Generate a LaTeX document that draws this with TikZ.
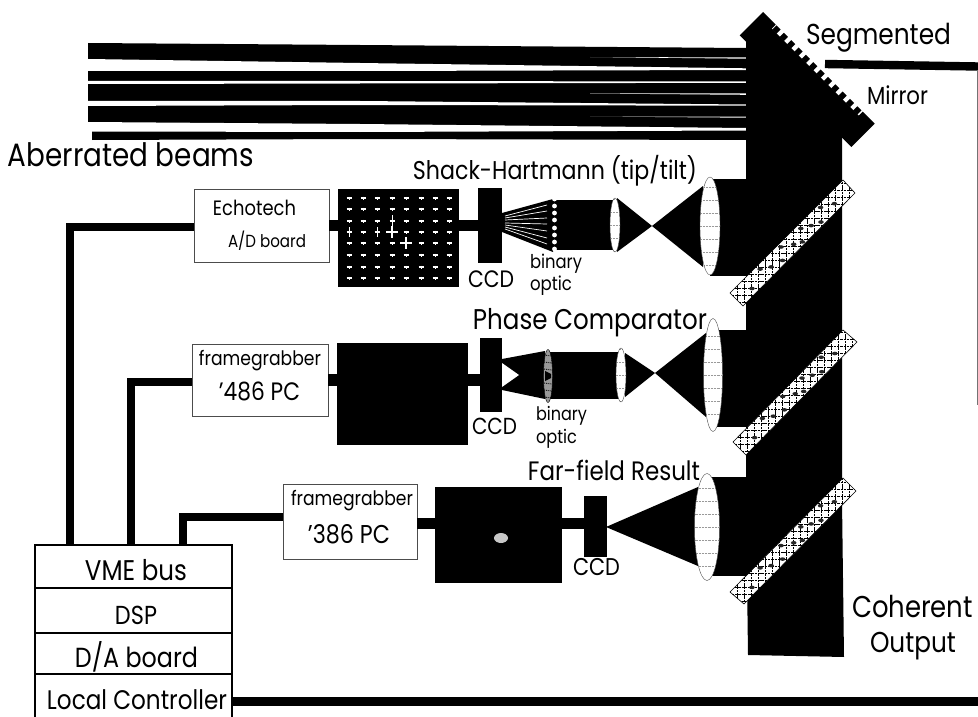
\documentclass[tikz,border=0pt]{standalone}
\usepackage{graphicx}
\usepackage{fontspec}
\setmainfont{Poppins}
\usetikzlibrary{shapes.geometric,calc}
\tikzset{
  wire/.style={line width=8.4pt,line cap=butt,line join=miter,black},
  bar/.style={line width=11.5pt,black},
  box/.style={draw=black!70,line width=.5pt,fill=white,inner sep=0pt,rectangle},
  solid box/.style={fill=black,draw=none,inner sep=0pt,rectangle},
  ctrl/.style={draw=black,line width=2.2pt,fill=white,inner sep=0pt,rectangle,minimum width=197pt},
  lab/.style={anchor=base,inner sep=0pt,text=black},
  lens/.style={ellipse,draw=black!70,line width=.4pt,fill=white,inner sep=0pt,
    path picture={\foreach \k in {-3,...,3}
      \draw[black!40,densely dotted,line width=.45pt]
      ([yshift=\k*13pt]path picture bounding box.west) -- ([yshift=\k*13pt]path picture bounding box.east);}},
  blob/.style={fill=black!85,draw=none}
}
\newcommand{\lab}[5]{\node[lab] (#1) at (#2,#3) {\scalebox{1}[1.16]{\resizebox{#4pt}{!}{#5}}};}
% top, right, bottom, left corners
\newcommand{\splitter}[4]{%
  \begin{scope}
    \fill[white] #1 -- #2 -- #3 -- #4 -- cycle;
    \clip #1 -- #2 -- #3 -- #4 -- cycle;
    \foreach \g in {0,7,...,147}{
      \draw[black,line width=.7pt,dash pattern=on 2.5pt off .8pt] ($#4+(-5,{9-\g})$) -- ++(140,0);
      \draw[black,line width=.7pt,dash pattern=on 2.5pt off .8pt] ($#4+({\g},20)$) -- ++(0,-160);
    }
    \foreach \t/\w in {.12/.7,.24/.25,.3/.6,.38/.8,.43/.2,.5/.6,.55/.85,.6/.25,.66/.55,.72/.8,.78/.2,.86/.6}{
      \fill[blob] ($#4!\t!#1+(12*\w,13*\w)$) ellipse [x radius=2.8,y radius=1.8];
    }
  \end{scope}
  \draw[black,line width=.6pt] #1 -- #2 -- #3 -- #4 -- cycle;
}
\begin{document}
\begin{tikzpicture}[x=1pt,y=-1pt]
\useasboundingbox (0,0) rectangle (978,717);
\fill[white] (0,0) rectangle (978,717);

% incoming beams
\fill[black] (88,43) -- (360,45) -- (746,48) -- (746,140) -- (360,139) -- (92,140) -- (92,131) -- (88,122) -- (88,106) -- (88,84) -- (88,71) -- cycle;
\fill[white] (88,59) -- (360,63) -- (746,68.3) -- (746,70) -- (360,71) -- (88,71) -- cycle;
\fill[white] (88,81) -- (360,81) -- (746,81.5) -- (746,82.8) -- (360,83.5) -- (88,84) -- cycle;
\fill[white] (88,101) -- (360,101) -- (746,104.5) -- (746,105.7) -- (360,105) -- (88,106) -- cycle;
\fill[white] (88,122) -- (360,124) -- (746,128) -- (746,130.5) -- (360,132) -- (92,131.5) -- (80,131.5) -- cycle;
\fill[white] (590,57) -- (746,57.5) -- (746,58.7) -- cycle;
\fill[white] (590,93.5) -- (746,93.5) -- (746,94.8) -- cycle;
\fill[white] (590,116.5) -- (746,116.5) -- (746,117.7) -- cycle;

% main vertical beam
\fill[black] (746,41) -- (842,137) -- (842,500) -- (844,657) -- (748,655) -- (746,500) -- cycle;

% segmented mirror
\begin{scope}[shift={(763,12)},x={(.7071pt,-.7071pt)},y={(.7071pt,.7071pt)}]
  \fill[black] (0,0) -- (18,0) -- (18,-5.5) -- (141,-5.5) -- (141,0) -- (158,0) -- (158,-33) -- (0,-33) -- cycle;
  \foreach \s in {19,29.4,...,135}{
    \fill[black] (\s,-6) -- (\s+5.8,-6) -- (\s+5.8,0) -- (\s,0) -- cycle;
  }
\end{scope}
\draw[wire] (825,64) -- (978,66.5);
\draw[black!55,line width=.9pt] (977.5,70) -- (977.5,405);

% branches to the main lenses
\fill[black] (710,179) rectangle (747,276);
\fill[black] (713,330) rectangle (747,427);
\fill[black] (707,477) rectangle (747,576);

% row 1 optics
\fill[black] (652,226) -- (703,186) -- (703,267) -- cycle;
\fill[black] (652,226) -- (617,198) -- (617,252) -- cycle;
\fill[black] (553,200) rectangle (615,250);
\fill[black] (502,213) -- (553,199) -- (553,252) -- (502,232) -- cycle;
\foreach \y/\z in {205/216,211/218,218/220,224/223,231/225,238/227,244/229}{
  \draw[white,line width=.7pt] (547,\y) -- (505,\z);
}
\node[lens,minimum width=20pt,minimum height=98pt] (lensA) at (710,226) {};
\node[lens,minimum width=10pt,minimum height=54pt] (smallA) at (615,225) {};
\foreach \y in {199,206,213,220,228,235,242,249}{
  \fill[white] (554.5,\y) circle [radius=2.4];
}
\node[solid box,minimum width=121pt,minimum height=98pt] (spots) at (398.5,238) {};
\foreach \x in {349,363,377,392,406,421,435,449}{
  \foreach \y in {198,209,221,232,243,255,267,278}{
    \draw[white,line width=1.3pt] (\x-2.5,\y) -- (\x+2.5,\y);
    \draw[white,line width=.9pt] (\x,\y-1.5) -- (\x,\y+1.5);
  }
}
\draw[white,line width=1.2pt] (392,226) -- (392,238) (386,232) -- (398,232);
\draw[white,line width=1.2pt] (406,237) -- (406,249) (400,243) -- (412,243);
\draw[white,line width=1pt] (392,215) -- (392,227) (349,227) -- (349,237) (377,227) -- (377,237);
\node[solid box,minimum width=24pt,minimum height=75pt] (ccdA) at (490,225.5) {};

% row 2 optics
\fill[black] (655,373) -- (706,333) -- (706,417) -- cycle;
\fill[black] (655,373) -- (625,353) -- (625,397) -- cycle;
\fill[black] (548,352) rectangle (619,399);
\fill[black] (502,359) -- (545,351) -- (545,399) -- (502,390) -- cycle;
\fill[white] (502,363) -- (519,375) -- (502,387) -- cycle;
\node[lens,minimum width=19pt,minimum height=113pt] (lensB) at (713,375) {};
\node[lens,minimum width=10pt,minimum height=54pt] (smallB) at (621,375) {};
\node[ellipse,fill=black!40,draw=black,line width=.4pt,inner sep=0pt,minimum width=9pt,minimum height=53pt] (optB) at (548,376) {};
\foreach \y in {355,362,369,383,390,397}{ \draw[black,line width=.9pt,densely dotted] (544,\y) -- (552,\y+1); }
\fill[black] (545,371) -- (551,374) -- (551,378) -- (545,381) -- cycle;
\node[solid box,minimum width=131pt,minimum height=102pt] (darkB) at (402.5,394) {};
\node[solid box,minimum width=22pt,minimum height=74pt] (ccdB) at (491,375) {};

% row 3 optics
\fill[black] (606,527) -- (698,487) -- (698,566) -- cycle;
\node[lens,minimum width=25pt,minimum height=107pt] (lensC) at (707,527) {};
\node[solid box,minimum width=127pt,minimum height=96pt] (farC) at (498.5,535) {};
\node[ellipse,fill=black!22,draw=none,inner sep=0pt,minimum width=14pt,minimum height=10pt] (spotC) at (501,538) {};
\node[solid box,minimum width=23pt,minimum height=61pt] (ccdC) at (595.5,526.5) {};

% beam splitters
\splitter{(843,180)}{(855,193)}{(743,306)}{(730,293)}
\splitter{(843,330)}{(857,342)}{(746,455)}{(733,442)}
\splitter{(843,478)}{(856,491)}{(744,604)}{(730,592)}

% electronics boxes
\node[box,minimum width=135pt,minimum height=73pt] (echotech) at (261.5,225.5) {};
\node[box,minimum width=136pt,minimum height=72pt] (fg486) at (260,380) {};
\node[box,minimum width=134pt,minimum height=75pt] (fg386) at (350,521.5) {};

% controller
\node[ctrl,minimum height=43pt] (vme) at (133.5,566.5) {};
\node[ctrl,minimum height=45pt] (dsp) at (133.5,610.5) {};
\node[ctrl,minimum height=41pt] (da) at (133.5,653.5) {};
\begin{scope}
  \clip (0,0) rectangle (978,717);
  \node[ctrl,minimum height=60pt] (local) at (133.5,704) {};
\end{scope}
\coordinate (c1) at (70,545);
\coordinate (c2) at (131,545);
\coordinate (c3) at (183,545);
\coordinate (rightEnd) at (978,701.5);

% connectors
\draw[wire] ([yshift=-1.5pt]echotech.west) -| (c1);
\draw[wire] ([yshift=-2pt]fg486.west) -| (c2);
\draw[wire] ([yshift=4.5pt]fg386.west) -| (c3);
\draw[line width=9pt] (local.east |- rightEnd) -- (rightEnd);
\draw[bar] (echotech.east) -- (echotech.east -| spots.west);
\draw[bar] (echotech.east -| spots.east) -- (echotech.east -| ccdA.west);
\draw[bar] (fg486.east) -- (fg486.east -| darkB.west);
\draw[bar] (fg486.east -| darkB.east) -- (fg486.east -| ccdB.west);
\draw[bar] ([yshift=-2pt]fg386.east) -- ([yshift=-2pt]fg386.east -| farC.west);
\draw[bar] ([yshift=-2pt]fg386.east -| farC.east) -- ([yshift=-2pt]fg386.east -| ccdC.west);

% labels
\lab{tSeg}{878.5}{45}{145}{Segmented}
\lab{tMir}{897.5}{105}{61}{Mirror}
\lab{tAb}{131}{166}{246}{Aberrated beams}
\lab{tSH}{555}{179}{284}{Shack-Hartmann (tip/tilt)}
\lab{tPC}{590}{329}{234}{Phase Comparator}
\lab{tFF}{614}{480}{172}{Far-field Result}
\lab{tEcho}{254.5}{215}{83}{Echotech}
\lab{tAD}{267}{247}{78}{A/D board}
\lab{tFgA}{260}{365}{122}{framegrabber}
\lab{tPCA}{259.5}{400}{81}{'486 PC}
\lab{tFgB}{352}{505}{122}{framegrabber}
\lab{tPCB}{349}{543}{82}{'386 PC}
\lab{tCCDA}{491}{287}{46}{CCD}
\lab{tBinA}{556}{268}{52}{binary}
\lab{tOptA}{551}{290}{42}{optic}
\lab{tCCDB}{494.5}{434}{45}{CCD}
\lab{tBinB}{561.5}{420}{51}{binary}
\lab{tOptB}{556.5}{443}{41}{optic}
\lab{tCCDC}{596.5}{575}{47}{CCD}
\lab{tVME}{136}{580}{102}{VME bus}
\lab{tDSP}{136}{624}{42}{DSP}
\lab{tDA}{136.5}{667}{123}{D/A board}
\lab{tLC}{137}{709}{180}{Local Controller}
\lab{tCoh}{912.5}{617}{121}{Coherent}
\lab{tOut}{913}{652}{86}{Output}
\end{tikzpicture}
\end{document}
